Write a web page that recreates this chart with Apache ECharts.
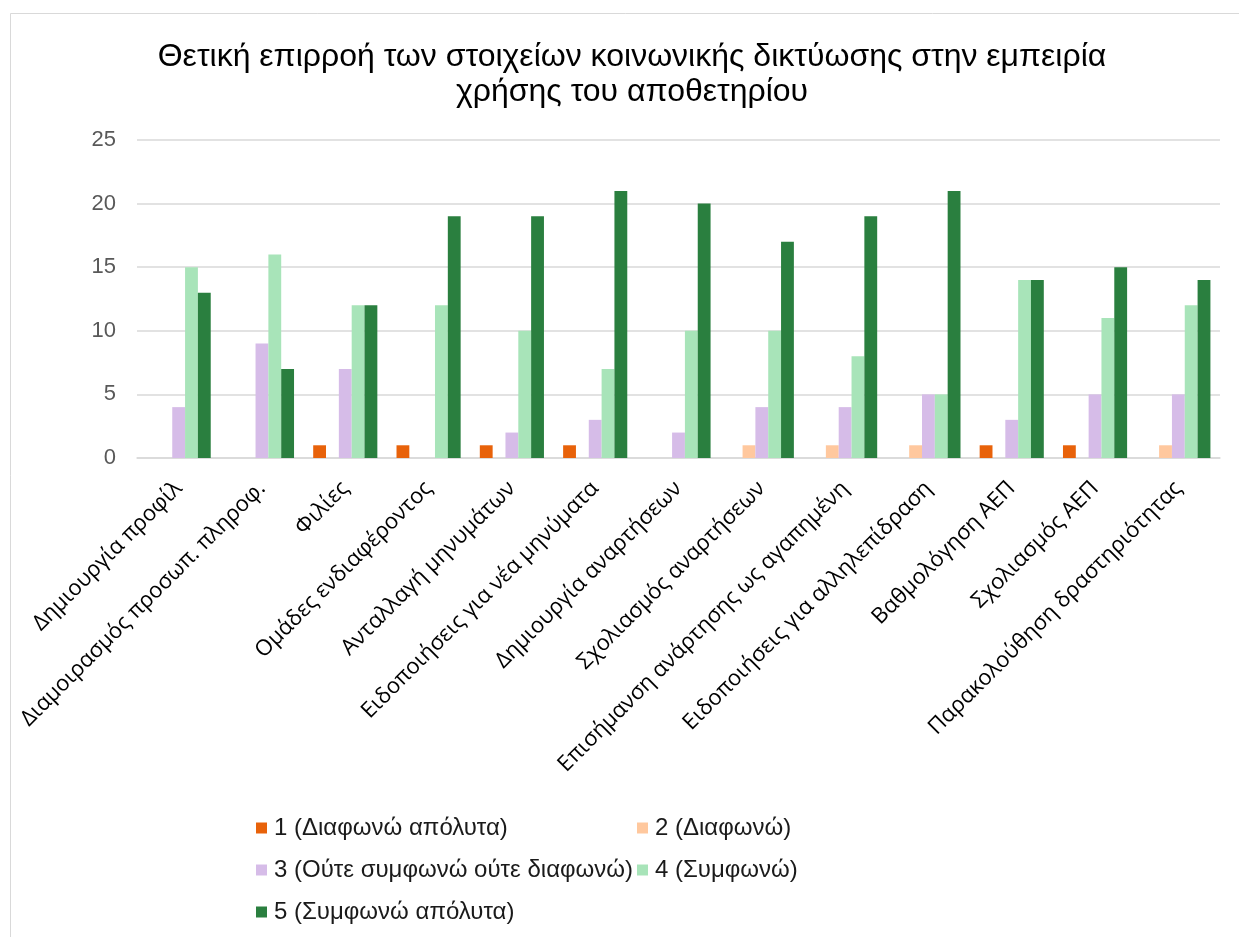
<!DOCTYPE html>
<html>
<head>
<meta charset="utf-8">
<script src="https://cdn.jsdelivr.net/npm/echarts@6/dist/echarts.min.js"></script>
<style>
html,body{margin:0;padding:0;background:#fff;}
#chart{width:1239px;height:937px;}
</style>
</head>
<body>
<div id="chart"></div>
<script>
const titleLines = ['Θετική επιρροή των στοιχείων κοινωνικής δικτύωσης στην εμπειρία', 'χρήσης του αποθετηρίου'];
const categories = ['Δημιουργία προφίλ','Διαμοιρασμός προσωπ. πληροφ.','Φιλίες','Ομάδες ενδιαφέροντος','Ανταλλαγή μηνυμάτων','Ειδοποιήσεις για νέα μηνύματα','Δημιουργία αναρτήσεων','Σχολιασμός αναρτήσεων','Επισήμανση ανάρτησης ως αγαπημένη','Ειδοποιήσεις για αλληλεπίδραση','Βαθμολόγηση ΑΕΠ','Σχολιασμός ΑΕΠ','Παρακολούθηση δραστηριότητας'];
const seriesNames = ['1 (Διαφωνώ απόλυτα)','2 (Διαφωνώ)','3 (Ούτε συμφωνώ ούτε διαφωνώ)','4 (Συμφωνώ)','5 (Συμφωνώ απόλυτα)'];
const s1 = [0,0,1,1,1,1,0,0,0,0,1,1,0];
const s2 = [0,0,0,0,0,0,0,1,1,1,0,0,1];
const s3 = [4,9,7,0,2,3,2,4,4,5,3,5,5];
const s4 = [15,16,12,12,10,7,10,10,8,5,14,11,12];
const s5 = [13,7,12,19,19,21,20,17,19,21,14,15,14];
const yTicks = [0,5,10,15,20,25];

const colors = ['#E8620A','#FFC89E','#D6BCE8','#A8E4B9','#2A7F3F'];
const values = [s1,s2,s3,s4,s5];

const chart = echarts.init(document.getElementById('chart'), null, {renderer:'canvas'});
const legendPos = [
  {left:256, top:816},
  {left:637, top:816},
  {left:256, top:858},
  {left:637, top:858},
  {left:256, top:900}
];
const option = {
  animation:false,
  backgroundColor:'#fff',
  color: colors,
  title:{
    text: titleLines.join('\n'),
    left: 627, top: 35, textAlign:'center',
    textStyle:{fontFamily:'Liberation Sans, Arial', fontSize:32, fontWeight:'normal', color:'#000', lineHeight:35}
  },
  graphic:[{type:'rect', shape:{x:10.5,y:13.5,width:1400,height:1000}, style:{fill:'none', stroke:'#D9D9D9', lineWidth:1}, silent:true, z:-1}],
  legend: seriesNames.map((n,i)=>({
    data:[n], left:legendPos[i].left, top:legendPos[i].top, orient:'horizontal',
    itemWidth:11, itemHeight:11, icon:'rect', itemGap:0, padding:0,
    textStyle:{fontFamily:'Liberation Sans, Arial', fontSize:24, color:'#1a1a1a', padding:[0,0,0,2]}
  })),
  grid:{left:137, right:19, top:140, bottom:479, containLabel:false},
  xAxis:{
    type:'category', data:categories,
    axisLine:{show:true, lineStyle:{color:'#D9D9D9', width:1.5}},
    axisTick:{show:false},
    axisLabel:{interval:0, rotate:45, margin:27, fontFamily:'Open Sans', fontSize:22, color:'#000'}
  },
  yAxis:{
    type:'value', min:yTicks[0], max:yTicks[yTicks.length-1], interval:5,
    axisLine:{show:false}, axisTick:{show:false},
    splitLine:{lineStyle:{color:'#D9D9D9', width:1.5}},
    axisLabel:{margin:21, fontFamily:'Liberation Sans, Arial', fontSize:22, color:'#595959'}
  },
  series: seriesNames.map((n,i)=>({
    name:n, type:'bar', data:values[i], barGap:'0%', barCategoryGap:'23%',
    itemStyle:{color:colors[i]}
  }))
};
chart.setOption(option);
</script>
</body>
</html>
